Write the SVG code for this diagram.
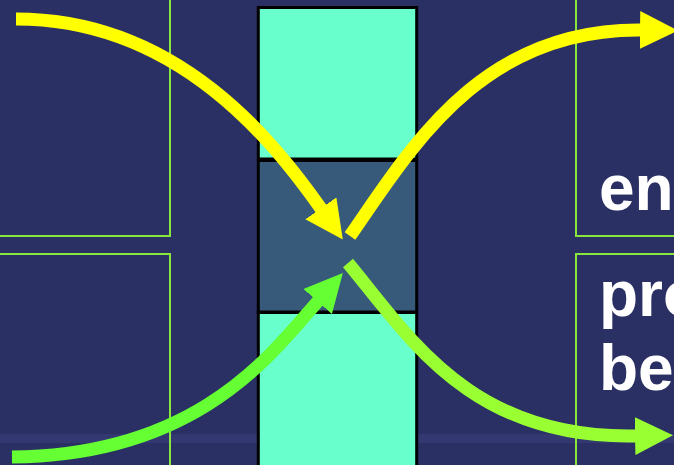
<svg xmlns="http://www.w3.org/2000/svg" width="674" height="465" viewBox="0 0 674 465">
  <style>
    .box { fill: none; stroke: #88e63c; stroke-width: 2; }
    .cell { stroke: #000; stroke-width: 3; }
    .aqua { fill: #68ffcc; }
    .mid { fill: #375a7b; }
    .lbl { font-family: "Liberation Sans", Arial, sans-serif; font-weight: bold; font-size: 64px; fill: #ffffff; }
    .arrow { fill: none; stroke-width: 13; }
  </style>
  <defs>
    <marker id="hY" viewBox="0 0 38 38" refX="2" refY="19" markerWidth="38" markerHeight="38" markerUnits="userSpaceOnUse" orient="auto">
      <path d="M0,0 L38,19 L0,38 z" fill="#ffff00"/>
    </marker>
    <marker id="hG" viewBox="0 0 38 38" refX="2" refY="19" markerWidth="38" markerHeight="38" markerUnits="userSpaceOnUse" orient="auto">
      <path d="M0,0 L38,19 L0,38 z" fill="#66ff33"/>
    </marker>
    <marker id="hL" viewBox="0 0 38 38" refX="2" refY="19" markerWidth="38" markerHeight="38" markerUnits="userSpaceOnUse" orient="auto">
      <path d="M0,0 L38,19 L0,38 z" fill="#99ff33"/>
    </marker>
  </defs>
  <rect x="0" y="0" width="674" height="465" fill="#2a3064"/>
  <rect x="0" y="434" width="674" height="9" fill="#3a3f78" opacity="0.6"/>

  <g id="box-top-left"><rect class="box" x="-5" y="-5" width="175" height="241"/></g>
  <g id="box-bottom-left"><rect class="box" x="-5" y="254" width="175" height="220"/></g>
  <g id="box-top-right"><rect class="box" x="576" y="-5" width="110" height="241"/>
    <text class="lbl" x="599" y="210">en</text></g>
  <g id="box-bottom-right"><rect class="box" x="576" y="254" width="110" height="220"/>
    <text class="lbl" x="599" y="316">pro</text>
    <text class="lbl" x="599" y="390">be</text></g>

  <g id="column">
    <rect class="cell aqua" x="258.3" y="7.5" width="158.4" height="151.5"/>
    <rect class="cell mid" x="258.3" y="160.5" width="158.4" height="151.5"/>
    <rect class="cell aqua" x="258.3" y="312.5" width="158.4" height="160"/>
  </g>

  <g id="connectors">
    <path class="arrow" stroke="#ffff00" d="M16,19 C180,19 276,145 322,210" marker-end="url(#hY)"/>
    <path class="arrow" stroke="#ffff00" d="M350,236 C410,150 480,28 642,30" marker-end="url(#hY)"/>
    <path class="arrow" stroke="#66ff33" d="M12,457 C200,455 273,352 319,300" marker-end="url(#hG)"/>
    <path class="arrow" stroke="#99ff33" d="M348,263 C408,335 470,440 637,436" marker-end="url(#hL)"/>
  </g>
</svg>
